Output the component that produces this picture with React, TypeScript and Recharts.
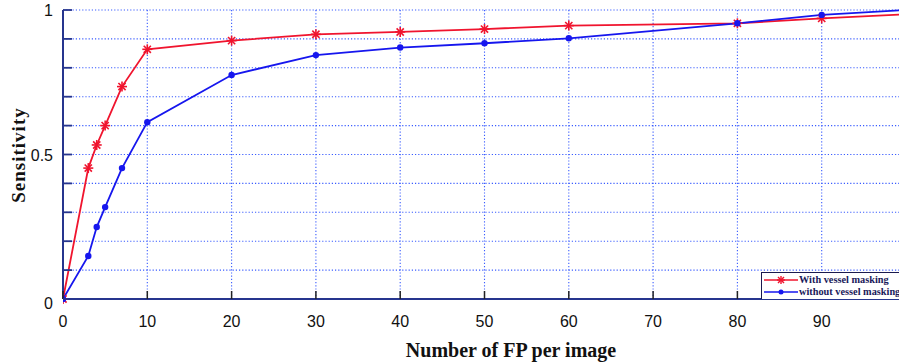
import React from 'react';
import { LineChart, Line, XAxis, YAxis, CartesianGrid } from 'recharts';

// FP per image (x) and sensitivity for the two methods
const fpPerImage = [0, 3, 4, 5, 7, 10, 20, 30, 40, 50, 60, 80, 90, 100];
const withMasking = [0, 0.453, 0.533, 0.6, 0.735, 0.864, 0.894, 0.916, 0.924, 0.934, 0.946, 0.954, 0.971, 0.985];
const withoutMasking = [0, 0.149, 0.249, 0.318, 0.453, 0.612, 0.775, 0.844, 0.87, 0.885, 0.902, 0.954, 0.983, 1.0];

const xTicks = [0, 10, 20, 30, 40, 50, 60, 70, 80, 90];
const yTicks = [0, 0.1, 0.2, 0.3, 0.4, 0.5, 0.6, 0.7, 0.8, 0.9, 1];
const yLabels: Record<string, string> = { '0': '0', '0.5': '0.5', '1': '1' };
const seriesNames = ['With vessel masking', 'without vessel masking'];

const data = fpPerImage.map((fp, i) => ({
  fp,
  withMask: withMasking[i],
  withoutMask: withoutMasking[i],
}));

const RED = '#f0142e';
const BLUE = '#1616ee';
const AXIS = '#26358e';

const StarDot = (props: any) => {
  const { cx, cy } = props;
  if (cx == null || cy == null) return null;
  const r = 5;
  const d = r * 0.72;
  return (
    <g stroke={RED} strokeWidth={1.6}>
      <line x1={cx - r} y1={cy} x2={cx + r} y2={cy} />
      <line x1={cx} y1={cy - r} x2={cx} y2={cy + r} />
      <line x1={cx - d} y1={cy - d} x2={cx + d} y2={cy + d} />
      <line x1={cx - d} y1={cy + d} x2={cx + d} y2={cy - d} />
    </g>
  );
};

const RoundDot = (props: any) => {
  const { cx, cy } = props;
  if (cx == null || cy == null) return null;
  return <circle cx={cx} cy={cy} r={3.2} fill={BLUE} />;
};

const XTick = (props: any) => {
  const { x, y, payload } = props;
  return (
    <g>
      <line x1={x} y1={y} x2={x} y2={y - 8} stroke="#222" strokeWidth={1.5} />
      <text x={x} y={y + 28} textAnchor="middle" fontSize={16} fill="#111"
        fontFamily="'Liberation Sans', Arial, sans-serif">
        {payload.value}
      </text>
    </g>
  );
};

const YTick = (props: any) => {
  const { x, y, payload } = props;
  const key = String(Math.round(payload.value * 10) / 10);
  const label = yLabels[key];
  const dy = key === '0' ? 10 : 6;
  return (
    <g>
      <line x1={x} y1={y} x2={x + 9} y2={y} stroke={AXIS} strokeWidth={1.8} />
      {label && (
        <text x={x - 10} y={y + dy} textAnchor="end" fontSize={16} fill="#111"
          fontFamily="'Liberation Sans', Arial, sans-serif">
          {label}
        </text>
      )}
    </g>
  );
};

const LegendBox = () => {
  const rows = [
    { label: seriesNames[0], color: RED, star: true },
    { label: seriesNames[1], color: BLUE, star: false },
  ];
  return (
    <div style={{
      position: 'absolute', left: 761, top: 272, width: 160, height: 27,
      border: '1.5px solid #1a1a50', borderBottom: 'none', background: '#fff',
      padding: '1px 0 0 2px', boxSizing: 'border-box',
      fontFamily: "'Liberation Serif', 'Times New Roman', serif",
      fontWeight: 'bold', fontSize: 10.3, color: '#1a1a5a', lineHeight: '12px',
    }}>
      {rows.map((r) => (
        <div key={r.label} style={{ display: 'flex', alignItems: 'center', whiteSpace: 'nowrap' }}>
          <svg width={34} height={12} style={{ flex: 'none' }}>
            <line x1={0} y1={6} x2={34} y2={6} stroke={r.color} strokeWidth={1.5} />
            {r.star ? (
              <g stroke={r.color} strokeWidth={1.4}>
                <line x1={13} y1={6} x2={21} y2={6} />
                <line x1={17} y1={2} x2={17} y2={10} />
                <line x1={14} y1={3} x2={20} y2={9} />
                <line x1={14} y1={9} x2={20} y2={3} />
              </g>
            ) : (
              <circle cx={17} cy={6} r={2.5} fill={r.color} />
            )}
          </svg>
          <span style={{ marginLeft: 1 }}>{r.label}</span>
        </div>
      ))}
    </div>
  );
};

export default function App() {
  return (
    <div style={{ position: 'absolute', left: 0, top: 0, width: 899, height: 362, overflow: 'hidden', background: '#fff' }}>
      <LineChart width={920} height={362} data={data} margin={{ top: 10, right: 14, bottom: 33, left: 0 }}>
        <CartesianGrid stroke="#3a5cff" strokeDasharray="1.2 2" strokeWidth={1.1} />
        <XAxis
          dataKey="fp"
          type="number"
          domain={[0, 100]}
          ticks={xTicks}
          height={30}
          tickSize={0}
          tickMargin={0}
          tick={<XTick />}
          axisLine={{ stroke: AXIS, strokeWidth: 2 }}
          tickLine={false}
          allowDataOverflow
        />
        <YAxis
          type="number"
          domain={[0, 1]}
          ticks={yTicks}
          width={63}
          tickSize={0}
          tickMargin={0}
          tick={<YTick />}
          axisLine={{ stroke: AXIS, strokeWidth: 2 }}
          tickLine={false}
        />
        <Line
          dataKey="withMask"
          name={seriesNames[0]}
          stroke={RED}
          strokeWidth={1.8}
          dot={<StarDot />}
          activeDot={false}
          isAnimationActive={false}
        />
        <Line
          dataKey="withoutMask"
          name={seriesNames[1]}
          stroke={BLUE}
          strokeWidth={1.8}
          dot={<RoundDot />}
          activeDot={false}
          isAnimationActive={false}
        />
      </LineChart>
      <LegendBox />
      <div style={{
        position: 'absolute', left: 19, top: 155, transform: 'translate(-50%, -50%) rotate(-90deg)',
        fontFamily: "'Liberation Serif', 'Times New Roman', serif", fontWeight: 'bold', fontSize: 19,
        letterSpacing: 1, whiteSpace: 'nowrap', color: '#111',
      }}>
        Sensitivity
      </div>
      <div style={{
        position: 'absolute', left: 511, top: 350, transform: 'translate(-50%, -50%)',
        fontFamily: "'Liberation Serif', 'Times New Roman', serif", fontWeight: 'bold', fontSize: 20,
        whiteSpace: 'nowrap', color: '#111',
      }}>
        Number of FP per image
      </div>
    </div>
  );
}
